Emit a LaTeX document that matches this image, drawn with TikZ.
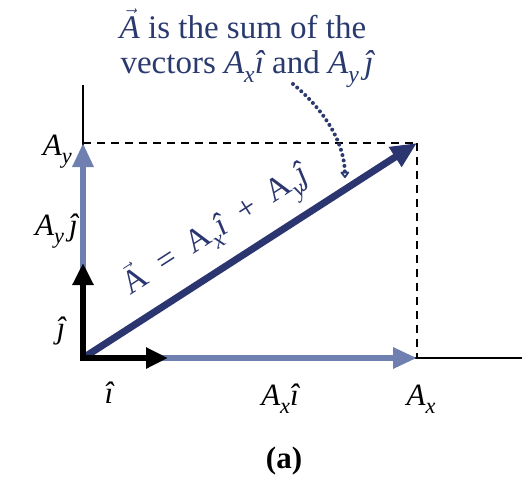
\documentclass[tikz,border=0pt]{standalone}
\usepackage{fontspec}
\setmainfont{Liberation Serif}
\usetikzlibrary{arrows.meta}
\definecolor{navy}{HTML}{2B3670}
\definecolor{compblue}{HTML}{6E7FB0}
\definecolor{txtblue}{HTML}{2A3A6E}
\newcommand{\myi}{{\itshape î}}
\newcommand{\myj}{{\itshape ĵ}}
\newcommand{\myvecA}{$\vec{\mbox{\itshape A}}$}
\newcommand{\myvecAr}{$\vec{\mbox{A}}$}
\newcommand{\mysub}[1]{\raisebox{-0.28em}{\scalebox{0.72}{\itshape #1}}}
\begin{document}
\begin{tikzpicture}[x=1pt,y=-1pt,
  axisline/.style={black,line width=1.1pt},
  dashline/.style={black,line width=1.1pt,dash pattern=on 8pt off 6pt},
  compvec/.style={compblue,line width=6.5pt,-{Triangle[length=24pt,width=20pt]}},
  mainvec/.style={navy,line width=7pt,-{Triangle[length=26pt,width=22pt]}},
  unitvec/.style={black,line width=5.5pt,-{Triangle[length=22pt,width=20pt]}},
  lbl/.style={font=\fontsize{31}{36}\selectfont,inner sep=0pt},
  toptxt/.style={font=\fontsize{33}{38}\selectfont,text=txtblue,inner sep=0pt,anchor=base},
  pointer/.style={txtblue,line width=4pt,dash pattern=on 0pt off 5.5pt,line cap=round,
    -{Triangle[open,length=7pt,width=10pt,line width=1.8pt,round]}}
]
\useasboundingbox (0,0) rectangle (522,479);
% points
\coordinate (O) at (83,358);
\coordinate (Xend) at (522,358);
\coordinate (Ytop) at (83,85);
\coordinate (P) at (417,143);
\coordinate (Ax) at (417,358);
\coordinate (Ay) at (83,143);
\coordinate (I) at (168,358);
\coordinate (J) at (83,263);
\coordinate (ps) at (293,84);
\coordinate (pe) at (345,178);
% axes
\draw[axisline] (O) -- (Xend);
\draw[axisline] (O) -- (Ytop);
% dashed projections
\draw[dashline] (Ay) -- (P);
\draw[dashline] (P) -- (Ax);
% component vectors
\draw[compvec] (O) -- (Ax);
\draw[compvec] (O) -- (Ay);
% main vector
\draw[mainvec] (O) -- (P) node[pos=0.455,sloped,above=9pt,lbl,font=\fontsize{33}{38}\selectfont] (lA)
  {\myvecAr\enspace=\enspace A\mysub{x}\myi\enspace+\enspace A\mysub{y}\myj};
% unit vectors
\draw[unitvec] ([xshift=-2.75pt]O) -- (I);
\draw[unitvec] ([yshift=2.75pt]O) -- (J);
% top text
\node[toptxt] (t1) at (243,38) {\myvecA{} is the sum of the};
\node[toptxt] (t2) at (247,73) {vectors {\itshape A}\mysub{x}\myi{} and {\itshape A}\mysub{y}\,\myj};
% dotted pointer
\draw[pointer] (ps) .. controls (322,108) and (344,140) .. (pe);
% labels
\node[lbl,anchor=base east] (lAy) at (72,155) {{\itshape A}\mysub{y}};
\node[lbl,anchor=base east] (lAyj) at (78,235) {{\itshape A}\mysub{y}\,\myj};
\node[lbl,anchor=base] (lj) at (61,338) {\myj};
\node[lbl,anchor=base] (li) at (109,403) {\myi};
\node[lbl,anchor=base] (lAxi) at (280,405) {{\itshape A}\mysub{x}\myi};
\node[lbl,anchor=base] (lAx) at (421,405) {{\itshape A}\mysub{x}};
\node[lbl,anchor=base] (la) at (284,468) {\textbf{(a)}};
\end{tikzpicture}
\end{document}
